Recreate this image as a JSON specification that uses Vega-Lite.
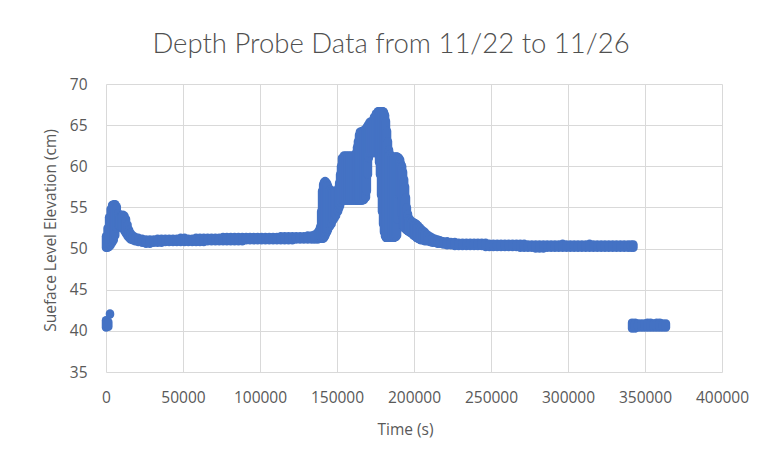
{
  "$schema": "https://vega.github.io/schema/vega-lite/v6.json",
  "width": 616,
  "height": 288,
  "autosize": "none",
  "padding": {"left": 106, "top": 84, "right": 40, "bottom": 90},
  "background": "white",
  "title": {
    "text": "Depth Probe Data from 11/22 to 11/26",
    "font": "Lato",
    "fontSize": 27.5,
    "fontWeight": 300,
    "color": "#505050",
    "anchor": "middle",
    "dx": -23,
    "baseline": "alphabetic",
    "offset": -3
  },
  "config": {
    "view": {"stroke": null},
    "axis": {
      "labelFont": "Open Sans",
      "labelFontSize": 15.5,
      "labelColor": "#595959",
      "titleFont": "Open Sans",
      "titleFontSize": 15.5,
      "titleFontWeight": "normal",
      "titleColor": "#595959",
      "gridColor": "#d9d9d9",
      "gridWidth": 1,
      "domain": false,
      "ticks": false,
      "tickSize": 0
    }
  },
  "data": {
    "values": [
      {"t": 0, "lo": 40.4, "hi": 41.3},
      {"t": 1500, "lo": 40.5, "hi": 41.1},
      {"t": 2600, "lo": 42.0, "hi": 42.1},
      {"t": 0, "lo": 50.1, "hi": 51.5},
      {"t": 1000, "lo": 50.1, "hi": 52.5},
      {"t": 2000, "lo": 50.2, "hi": 53.8},
      {"t": 3000, "lo": 50.4, "hi": 54.8},
      {"t": 4000, "lo": 50.7, "hi": 55.3},
      {"t": 5000, "lo": 51.0, "hi": 55.4},
      {"t": 6000, "lo": 51.6, "hi": 55.4},
      {"t": 7000, "lo": 52.4, "hi": 55.1},
      {"t": 8000, "lo": 52.8, "hi": 54.3},
      {"t": 9000, "lo": 52.7, "hi": 53.9},
      {"t": 10000, "lo": 52.6, "hi": 54.0},
      {"t": 11000, "lo": 52.4, "hi": 54.1},
      {"t": 12000, "lo": 52.1, "hi": 54.0},
      {"t": 13000, "lo": 51.8, "hi": 53.6},
      {"t": 14000, "lo": 51.5, "hi": 52.9},
      {"t": 15000, "lo": 51.3, "hi": 52.3},
      {"t": 16000, "lo": 51.1, "hi": 51.9},
      {"t": 17500, "lo": 51.0, "hi": 51.6},
      {"t": 19000, "lo": 50.9, "hi": 51.4},
      {"t": 21000, "lo": 50.8, "hi": 51.3},
      {"t": 23500, "lo": 50.7, "hi": 51.2},
      {"t": 26000, "lo": 50.6, "hi": 51.1},
      {"t": 28500, "lo": 50.6, "hi": 51.1},
      {"t": 31000, "lo": 50.7, "hi": 51.1},
      {"t": 33500, "lo": 50.7, "hi": 51.2},
      {"t": 36000, "lo": 50.7, "hi": 51.2},
      {"t": 38500, "lo": 50.8, "hi": 51.2},
      {"t": 41000, "lo": 50.8, "hi": 51.2},
      {"t": 43500, "lo": 50.8, "hi": 51.2},
      {"t": 46000, "lo": 50.8, "hi": 51.2},
      {"t": 48500, "lo": 50.8, "hi": 51.3},
      {"t": 51000, "lo": 50.8, "hi": 51.3},
      {"t": 53500, "lo": 50.8, "hi": 51.2},
      {"t": 56000, "lo": 50.8, "hi": 51.2},
      {"t": 58500, "lo": 50.8, "hi": 51.3},
      {"t": 61000, "lo": 50.8, "hi": 51.3},
      {"t": 63500, "lo": 50.8, "hi": 51.3},
      {"t": 66000, "lo": 50.9, "hi": 51.3},
      {"t": 68500, "lo": 50.9, "hi": 51.3},
      {"t": 71000, "lo": 50.9, "hi": 51.3},
      {"t": 73500, "lo": 50.9, "hi": 51.3},
      {"t": 76000, "lo": 50.9, "hi": 51.4},
      {"t": 78500, "lo": 50.9, "hi": 51.4},
      {"t": 81000, "lo": 50.9, "hi": 51.4},
      {"t": 83500, "lo": 50.9, "hi": 51.4},
      {"t": 86000, "lo": 50.9, "hi": 51.4},
      {"t": 88500, "lo": 50.9, "hi": 51.4},
      {"t": 91000, "lo": 51.0, "hi": 51.4},
      {"t": 93500, "lo": 51.0, "hi": 51.4},
      {"t": 96000, "lo": 51.0, "hi": 51.4},
      {"t": 98500, "lo": 51.0, "hi": 51.4},
      {"t": 101000, "lo": 51.0, "hi": 51.4},
      {"t": 103500, "lo": 51.0, "hi": 51.4},
      {"t": 106000, "lo": 51.0, "hi": 51.4},
      {"t": 108500, "lo": 51.0, "hi": 51.4},
      {"t": 111000, "lo": 51.0, "hi": 51.4},
      {"t": 113500, "lo": 51.0, "hi": 51.5},
      {"t": 116000, "lo": 51.0, "hi": 51.5},
      {"t": 118500, "lo": 51.0, "hi": 51.5},
      {"t": 121000, "lo": 51.0, "hi": 51.5},
      {"t": 123500, "lo": 51.1, "hi": 51.5},
      {"t": 126000, "lo": 51.1, "hi": 51.5},
      {"t": 128500, "lo": 51.1, "hi": 51.5},
      {"t": 131000, "lo": 51.1, "hi": 51.6},
      {"t": 133500, "lo": 51.1, "hi": 51.6},
      {"t": 135500, "lo": 51.1, "hi": 51.7},
      {"t": 137500, "lo": 51.1, "hi": 52.0},
      {"t": 138300, "lo": 51.2, "hi": 52.2},
      {"t": 139000, "lo": 51.2, "hi": 52.6},
      {"t": 139700, "lo": 51.2, "hi": 54.5},
      {"t": 140300, "lo": 51.2, "hi": 57.0},
      {"t": 141000, "lo": 51.2, "hi": 57.8},
      {"t": 141600, "lo": 51.3, "hi": 58.1},
      {"t": 142300, "lo": 51.5, "hi": 58.2},
      {"t": 142900, "lo": 51.8, "hi": 58.1},
      {"t": 143600, "lo": 52.0, "hi": 57.9},
      {"t": 144200, "lo": 52.3, "hi": 57.6},
      {"t": 145500, "lo": 52.7, "hi": 57.2},
      {"t": 146500, "lo": 53.0, "hi": 57.0},
      {"t": 147400, "lo": 53.4, "hi": 57.0},
      {"t": 148400, "lo": 53.7, "hi": 57.0},
      {"t": 149400, "lo": 54.0, "hi": 57.0},
      {"t": 150700, "lo": 54.5, "hi": 57.3},
      {"t": 151400, "lo": 54.9, "hi": 58.0},
      {"t": 152000, "lo": 55.2, "hi": 59.0},
      {"t": 152600, "lo": 55.6, "hi": 60.0},
      {"t": 153200, "lo": 55.9, "hi": 61.0},
      {"t": 154500, "lo": 55.8, "hi": 61.3},
      {"t": 155800, "lo": 55.8, "hi": 61.3},
      {"t": 157100, "lo": 55.8, "hi": 61.3},
      {"t": 158400, "lo": 55.8, "hi": 61.3},
      {"t": 159700, "lo": 55.8, "hi": 61.3},
      {"t": 161000, "lo": 55.8, "hi": 61.2},
      {"t": 162300, "lo": 55.8, "hi": 61.6},
      {"t": 163000, "lo": 55.8, "hi": 62.3},
      {"t": 163600, "lo": 55.8, "hi": 63.0},
      {"t": 164300, "lo": 55.8, "hi": 63.8},
      {"t": 164900, "lo": 55.8, "hi": 64.2},
      {"t": 166200, "lo": 55.8, "hi": 64.3},
      {"t": 167500, "lo": 55.9, "hi": 64.4},
      {"t": 168800, "lo": 56.2, "hi": 64.6},
      {"t": 169400, "lo": 57.0, "hi": 64.8},
      {"t": 170100, "lo": 59.0, "hi": 65.0},
      {"t": 170700, "lo": 61.0, "hi": 65.2},
      {"t": 171400, "lo": 61.6, "hi": 65.4},
      {"t": 172700, "lo": 61.6, "hi": 65.5},
      {"t": 174000, "lo": 61.6, "hi": 66.0},
      {"t": 175300, "lo": 61.6, "hi": 66.4},
      {"t": 176600, "lo": 61.6, "hi": 66.7},
      {"t": 177300, "lo": 60.5, "hi": 66.7},
      {"t": 177900, "lo": 59.0, "hi": 66.7},
      {"t": 178600, "lo": 56.5, "hi": 66.7},
      {"t": 179200, "lo": 54.5, "hi": 66.7},
      {"t": 179900, "lo": 53.0, "hi": 66.7},
      {"t": 180500, "lo": 52.0, "hi": 66.6},
      {"t": 181200, "lo": 51.5, "hi": 66.2},
      {"t": 181800, "lo": 51.3, "hi": 65.5},
      {"t": 182500, "lo": 51.3, "hi": 64.3},
      {"t": 183100, "lo": 51.3, "hi": 63.0},
      {"t": 183800, "lo": 51.3, "hi": 62.0},
      {"t": 184400, "lo": 51.3, "hi": 61.5},
      {"t": 185700, "lo": 51.3, "hi": 61.2},
      {"t": 187000, "lo": 51.3, "hi": 61.2},
      {"t": 188300, "lo": 51.4, "hi": 61.2},
      {"t": 189000, "lo": 51.6, "hi": 61.2},
      {"t": 189600, "lo": 53.5, "hi": 61.1},
      {"t": 190300, "lo": 56.5, "hi": 61.0},
      {"t": 191000, "lo": 56.5, "hi": 60.8},
      {"t": 191600, "lo": 56.5, "hi": 60.3},
      {"t": 192300, "lo": 54.0, "hi": 60.0},
      {"t": 192900, "lo": 52.6, "hi": 59.3},
      {"t": 193600, "lo": 52.5, "hi": 58.4},
      {"t": 194200, "lo": 52.4, "hi": 57.5},
      {"t": 194800, "lo": 52.3, "hi": 56.2},
      {"t": 195400, "lo": 52.2, "hi": 55.0},
      {"t": 196100, "lo": 52.1, "hi": 54.2},
      {"t": 196800, "lo": 52.0, "hi": 53.7},
      {"t": 197700, "lo": 51.9, "hi": 53.5},
      {"t": 198700, "lo": 51.8, "hi": 53.3},
      {"t": 199600, "lo": 51.6, "hi": 53.2},
      {"t": 200600, "lo": 51.5, "hi": 53.1},
      {"t": 201600, "lo": 51.3, "hi": 53.0},
      {"t": 202600, "lo": 51.2, "hi": 52.8},
      {"t": 203600, "lo": 51.1, "hi": 52.6},
      {"t": 204500, "lo": 51.0, "hi": 52.4},
      {"t": 205800, "lo": 51.0, "hi": 52.2},
      {"t": 207100, "lo": 50.9, "hi": 52.0},
      {"t": 208700, "lo": 50.9, "hi": 51.7},
      {"t": 210400, "lo": 50.8, "hi": 51.5},
      {"t": 212000, "lo": 50.7, "hi": 51.3},
      {"t": 213600, "lo": 50.7, "hi": 51.2},
      {"t": 215300, "lo": 50.6, "hi": 51.1},
      {"t": 216900, "lo": 50.6, "hi": 51.0},
      {"t": 219000, "lo": 50.5, "hi": 50.9},
      {"t": 221500, "lo": 50.4, "hi": 50.9},
      {"t": 224000, "lo": 50.4, "hi": 50.8},
      {"t": 226500, "lo": 50.3, "hi": 50.8},
      {"t": 229000, "lo": 50.3, "hi": 50.7},
      {"t": 231500, "lo": 50.3, "hi": 50.7},
      {"t": 234000, "lo": 50.3, "hi": 50.7},
      {"t": 236500, "lo": 50.3, "hi": 50.7},
      {"t": 239000, "lo": 50.3, "hi": 50.7},
      {"t": 241500, "lo": 50.3, "hi": 50.7},
      {"t": 244000, "lo": 50.3, "hi": 50.7},
      {"t": 246500, "lo": 50.2, "hi": 50.7},
      {"t": 249000, "lo": 50.2, "hi": 50.6},
      {"t": 251500, "lo": 50.2, "hi": 50.6},
      {"t": 254000, "lo": 50.2, "hi": 50.6},
      {"t": 256500, "lo": 50.2, "hi": 50.6},
      {"t": 259000, "lo": 50.2, "hi": 50.6},
      {"t": 261500, "lo": 50.2, "hi": 50.6},
      {"t": 264000, "lo": 50.2, "hi": 50.6},
      {"t": 266500, "lo": 50.2, "hi": 50.6},
      {"t": 269000, "lo": 50.1, "hi": 50.6},
      {"t": 271500, "lo": 50.1, "hi": 50.6},
      {"t": 274000, "lo": 50.1, "hi": 50.5},
      {"t": 276500, "lo": 50.1, "hi": 50.5},
      {"t": 279000, "lo": 50.0, "hi": 50.5},
      {"t": 281500, "lo": 50.0, "hi": 50.5},
      {"t": 284000, "lo": 50.0, "hi": 50.5},
      {"t": 286500, "lo": 50.1, "hi": 50.5},
      {"t": 289000, "lo": 50.1, "hi": 50.5},
      {"t": 291500, "lo": 50.1, "hi": 50.5},
      {"t": 294000, "lo": 50.1, "hi": 50.5},
      {"t": 296500, "lo": 50.1, "hi": 50.6},
      {"t": 299000, "lo": 50.1, "hi": 50.5},
      {"t": 301500, "lo": 50.1, "hi": 50.5},
      {"t": 304000, "lo": 50.1, "hi": 50.5},
      {"t": 306500, "lo": 50.1, "hi": 50.5},
      {"t": 309000, "lo": 50.1, "hi": 50.5},
      {"t": 311500, "lo": 50.1, "hi": 50.5},
      {"t": 314000, "lo": 50.1, "hi": 50.6},
      {"t": 316500, "lo": 50.1, "hi": 50.5},
      {"t": 319000, "lo": 50.1, "hi": 50.5},
      {"t": 321500, "lo": 50.1, "hi": 50.5},
      {"t": 324000, "lo": 50.1, "hi": 50.5},
      {"t": 326500, "lo": 50.1, "hi": 50.5},
      {"t": 329000, "lo": 50.1, "hi": 50.5},
      {"t": 331500, "lo": 50.1, "hi": 50.5},
      {"t": 334000, "lo": 50.1, "hi": 50.5},
      {"t": 336500, "lo": 50.1, "hi": 50.5},
      {"t": 339000, "lo": 50.1, "hi": 50.5},
      {"t": 341000, "lo": 50.1, "hi": 50.5},
      {"t": 342500, "lo": 50.1, "hi": 50.5},
      {"t": 341600, "lo": 40.3, "hi": 41.0},
      {"t": 343600, "lo": 40.3, "hi": 41.0},
      {"t": 345600, "lo": 40.4, "hi": 40.9},
      {"t": 347600, "lo": 40.4, "hi": 40.9},
      {"t": 349600, "lo": 40.4, "hi": 40.9},
      {"t": 351600, "lo": 40.4, "hi": 41.0},
      {"t": 353600, "lo": 40.4, "hi": 41.0},
      {"t": 355600, "lo": 40.4, "hi": 40.9},
      {"t": 357600, "lo": 40.4, "hi": 41.0},
      {"t": 359600, "lo": 40.4, "hi": 41.0},
      {"t": 361600, "lo": 40.4, "hi": 40.9},
      {"t": 363600, "lo": 40.4, "hi": 40.9}
    ]
  },
  "mark": {"type": "rule", "color": "#4472C4", "strokeWidth": 8.5, "strokeCap": "round"},
  "encoding": {
    "x": {
      "field": "t",
      "type": "quantitative",
      "scale": {"domain": [0, 400000], "nice": false},
      "axis": {
        "title": "Time (s)",
        "values": [0, 50000, 100000, 150000, 200000, 250000, 300000, 350000, 400000],
        "format": "d",
        "labelBaseline": "middle",
        "labelPadding": 25,
        "labelFlush": false,
        "titleBaseline": "middle",
        "titleAlign": "center",
        "titleX": 299,
        "titleY": 57
      }
    },
    "y": {
      "field": "lo",
      "type": "quantitative",
      "scale": {"domain": [35, 70], "nice": false, "zero": false},
      "axis": {
        "title": "Sueface Level Elevation (cm)",
        "values": [35, 40, 45, 50, 55, 60, 65, 70],
        "labelPadding": 19,
        "labelFlush": false,
        "titleBaseline": "middle",
        "titleAlign": "center",
        "titleX": -56,
        "titleY": 146
      }
    },
    "y2": {"field": "hi"}
  }
}
